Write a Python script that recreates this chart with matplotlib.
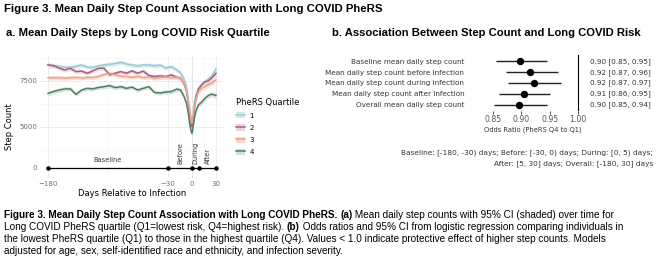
import matplotlib
matplotlib.use("Agg")
import matplotlib.pyplot as plt
from matplotlib.patches import Patch
from matplotlib.lines import Line2D
from matplotlib.ticker import FixedLocator

# ---------------- data ----------------
days = [-180, -173, -166, -159, -152, -145, -138, -131, -124, -117, -110, -103, -96, -89,
        -82, -75, -68, -61, -54, -47, -40, -33, -26, -19, -14, -10, -7, -5, -3, -1,
        0, 1, 3, 5, 8, 12, 16, 20, 24, 27, 30]

q1_steps = [8380, 8330, 8280, 8250, 8230, 8300, 8370, 8260, 8230, 8320, 8370, 8410, 8450, 8515,
            8420, 8370, 8320, 8370, 8360, 8330, 8370, 8200, 8280, 8100, 7920, 7600, 7200, 6560, 6000, 5450,
            5290, 5500, 6300, 6750, 7100, 7250, 7450, 7600, 7750, 7950, 8150]
q2_steps = [8380, 8330, 8200, 8100, 8190, 8010, 8040, 7920, 8050, 8190, 8200, 7830, 7920, 8010,
            7920, 8050, 7920, 8040, 7800, 7740, 7780, 7740, 7830, 7700, 7640, 7350, 6950, 6380, 5800, 5150,
            5020, 5250, 6000, 6600, 7050, 7300, 7460, 7500, 7640, 7780, 7920]
q3_steps = [7680, 7670, 7680, 7650, 7680, 7690, 7660, 7700, 7690, 7750, 7850, 7920, 7830, 7760,
            7740, 7700, 7750, 7680, 7720, 7640, 7700, 7720, 7680, 7700, 7640, 7400, 7000, 6470, 5900, 5300,
            5200, 5400, 6050, 6500, 6920, 7100, 7190, 7300, 7370, 7480, 7550]
q4_steps = [6830, 6930, 7010, 7070, 7070, 6775, 7010, 7100, 7070, 7150, 7190, 7250, 7140, 7190,
            7100, 7170, 7010, 7100, 7190, 6880, 6850, 6900, 6920, 7060, 7000, 6650, 6300, 5830, 5200, 4750,
            4660, 4900, 5500, 5900, 6200, 6350, 6550, 6700, 6780, 6750, 6720]
ci_half = [130, 120, 120, 115, 115, 115, 110, 110, 110, 110, 110, 110, 110, 110,
           110, 110, 110, 110, 110, 110, 115, 115, 120, 120, 125, 130, 140, 150, 160, 170,
           175, 170, 160, 150, 140, 135, 135, 140, 145, 150, 160]

quartile_labels = ["1", "2", "3", "4"]
period_bounds = [-180, -30, 0, 9, 30]
period_names = ["Baseline", "Before", "During", "After"]

forest_labels = ["Baseline mean daily step count",
                 "Mean daily step count before infection",
                 "Mean daily step count during infection",
                 "Mean daily step count after infection",
                 "Overall mean daily step count"]
or_est = [0.898, 0.916, 0.922, 0.905, 0.896]
or_low = [0.855, 0.872, 0.876, 0.861, 0.851]
or_high = [0.945, 0.964, 0.970, 0.951, 0.945]
or_text = ["0.90 [0.85, 0.95]", "0.92 [0.87, 0.96]", "0.92 [0.87, 0.97]",
           "0.91 [0.86, 0.95]", "0.90 [0.85, 0.94]"]

# ---------------- styling ----------------
line_colors = ["#9ccbd2", "#a2617f", "#f0a38e", "#4f7f65"]
band_colors = ["#d3e9ec", "#ecd2dc", "#f8dad1", "#cfe2d6"]
W, H = 657, 261
DF = "DejaVu Sans"
AF = "Liberation Sans"


def fx(px):
    return px / W


def fy(py):
    return 1 - py / H


fig = plt.figure(figsize=(W / 100, H / 100), dpi=100)

# titles
fig.text(fx(4), fy(8.5), "Figure 3. Mean Daily Step Count Association with Long COVID PheRS",
         family=AF, weight="bold", fontsize=8.2, va="center", ha="left")
fig.text(fx(6), fy(33), "a. Mean Daily Steps by Long COVID Risk Quartile",
         family=AF, weight="bold", fontsize=8.1, va="center", ha="left")
fig.text(fx(332), fy(33), "b. Association Between Step Count and Long COVID Risk",
         family=AF, weight="bold", fontsize=8.1, va="center", ha="left")

# ---------------- panel a ----------------
x0, x1 = 40, 224
ax = fig.add_axes([fx(x0), fy(152), fx(x1 - x0), (152 - 55) / H])
axt = fig.add_axes([fx(x0), fy(178), fx(x1 - x0), (178 - 152) / H], sharex=ax)

series = [q1_steps, q2_steps, q3_steps, q4_steps]
for vals, lc, bc in zip(series, line_colors, band_colors):
    lo = [v - c for v, c in zip(vals, ci_half)]
    hi = [v + c for v, c in zip(vals, ci_half)]
    ax.fill_between(days, lo, hi, color=bc, alpha=0.85, lw=0, zorder=2)
for vals, lc in zip(series, line_colors):
    ax.plot(days, vals, color=lc, lw=1.1, zorder=3)

ax.set_xlim(-190, 40)
ax.set_ylim(3641, 8913)
ax.yaxis.set_major_locator(FixedLocator([5000, 7500]))
ax.yaxis.set_minor_locator(FixedLocator([3750, 6250, 8750]))
ax.xaxis.set_major_locator(FixedLocator([-180, -30, 0, 30]))
ax.xaxis.set_minor_locator(FixedLocator([-105, -15, 15]))
for a in (ax, axt):
    a.set_facecolor("none")
    for s in a.spines.values():
        s.set_visible(False)
    a.grid(True, which="major", color="#e9e9e9", lw=0.6, zorder=0)
    a.grid(True, which="minor", color="#f3f3f3", lw=0.4, zorder=0)
    a.tick_params(which="both", length=0, labelsize=5, labelcolor="#6e6e6e", pad=2)
    a.axvline(0, color="#b5b5b5", lw=0.7, ls=(0, (3, 2)), zorder=1)
ax.tick_params(labelbottom=False)
ax.set_ylabel("Step Count", family=DF, fontsize=6, labelpad=3)
ax.yaxis.set_label_coords(-0.14, 0.26)

# timeline
axt.set_ylim(-1, 1.6)
axt.set_yticks([0])
axt.set_yticklabels(["0"])
axt.grid(False, axis="y")
axt.plot([period_bounds[0], period_bounds[-1]], [0, 0], color="black", lw=0.9, zorder=4)
axt.plot(period_bounds, [0] * len(period_bounds), "o", color="black", ms=2.2, zorder=5)
mids = [(a + b) / 2 for a, b in zip(period_bounds[:-1], period_bounds[1:])]
axt.text(mids[0], 0.8, period_names[0], ha="center", va="center", fontsize=4.8,
         family=DF, color="#333333")
for m, name in zip(mids[1:], period_names[1:]):
    axt.text(m, 0.45, name, rotation=90, ha="center", va="bottom", fontsize=4.8,
             family=DF, color="#333333", clip_on=False, zorder=6)
axt.set_xlabel("Days Relative to Infection", family=DF, fontsize=6, labelpad=1.5)

# legend
handles = [(Patch(facecolor=bc, edgecolor="none"), Line2D([], [], color=lc, lw=1.1))
           for lc, bc in zip(line_colors, band_colors)]
leg = fig.legend(handles, quartile_labels, title="PheRS Quartile", loc="upper left",
                 bbox_to_anchor=(fx(236), fy(97.5)), frameon=False, fontsize=5,
                 title_fontsize=6, handlelength=1.3, handleheight=1.0,
                 labelspacing=0.82, handletextpad=0.6, borderaxespad=0, borderpad=0)
leg._legend_box.align = "left"

# ---------------- panel b ----------------
fa = fig.add_axes([fx(484), fy(111), fx(582 - 484), (111 - 55) / H])
ypos = list(range(len(forest_labels)))
fa.hlines(ypos, or_low, or_high, color="#222222", lw=1.0, zorder=2)
fa.plot(or_est, ypos, "o", color="black", ms=4.3, zorder=3)
fa.axvline(1.0, color="black", lw=0.8, zorder=1)
fa.set_xlim(0.834, 1.007)
fa.set_ylim(4.6, -0.6)
fa.set_xticks([0.85, 0.90, 0.95, 1.00])
fa.set_xticklabels(["0.85", "0.90", "0.95", "1.00"])
fa.set_yticks(ypos)
fa.set_yticklabels(forest_labels)
for s in fa.spines.values():
    s.set_visible(False)
fa.tick_params(axis="y", length=0, labelsize=5.25, pad=20 - (464 - 456) * 0.72, labelcolor="#333333")
fa.tick_params(axis="x", length=2, width=0.5, labelsize=5.6, pad=1, labelcolor="#555555")
fa.set_xlabel("Odds Ratio (PheRS Q4 to Q1)", family=DF, fontsize=4.85, labelpad=2, color="#333333")
for yy, t in zip(ypos, or_text):
    fa.text(1.0 + (590 - 582) / (582 - 484), yy, t, transform=fa.get_yaxis_transform(),
            ha="left", va="center", fontsize=5.25, family=DF, color="#333333")

fig.text(fx(653), fy(153), "Baseline: [-180, -30) days; Before: [-30, 0) days; During: [0, 5) days;",
         family=DF, fontsize=5.35, ha="right", va="center", color="#333333")
fig.text(fx(653), fy(163.5), "After: [5, 30] days; Overall: [-180, 30] days",
         family=DF, fontsize=5.35, ha="right", va="center", color="#333333")

# ---------------- caption ----------------
cap_fs = 7.2
cap_lines = [
    [("Figure 3. Mean Daily Step Count Association with Long COVID PheRS.", True), (" ", False),
     ("(a)", True), (" Mean daily step counts with 95% CI (shaded) over time for", False)],
    [("Long COVID PheRS quartile (Q1=lowest risk, Q4=highest risk). ", False), ("(b)", True),
     (" Odds ratios and 95% CI from logistic regression comparing individuals in", False)],
    [("the lowest PheRS quartile (Q1) to those in the highest quartile (Q4). Values < 1.0 indicate "
      "protective effect of higher step counts. Models", False)],
    [("adjusted for age, sex, self-identified race and ethnicity, and infection severity.", False)],
]
base_y = [218, 230, 242, 254]
cap_texts = []
for parts, by in zip(cap_lines, base_y):
    row = []
    for txt, bold in parts:
        t = fig.text(fx(4), fy(by), txt, ha="left", va="baseline", family=AF,
                     fontsize=cap_fs, weight="bold" if bold else "normal")
        row.append(t)
    cap_texts.append((row, by))

fig.canvas.draw()
r = fig.canvas.get_renderer()
for row, by in cap_texts:
    xcur = 4
    for t in row:
        t.set_position((fx(xcur), fy(by)))
        xcur += t.get_window_extent(renderer=r).width

fig.savefig("out.png", dpi=100)
